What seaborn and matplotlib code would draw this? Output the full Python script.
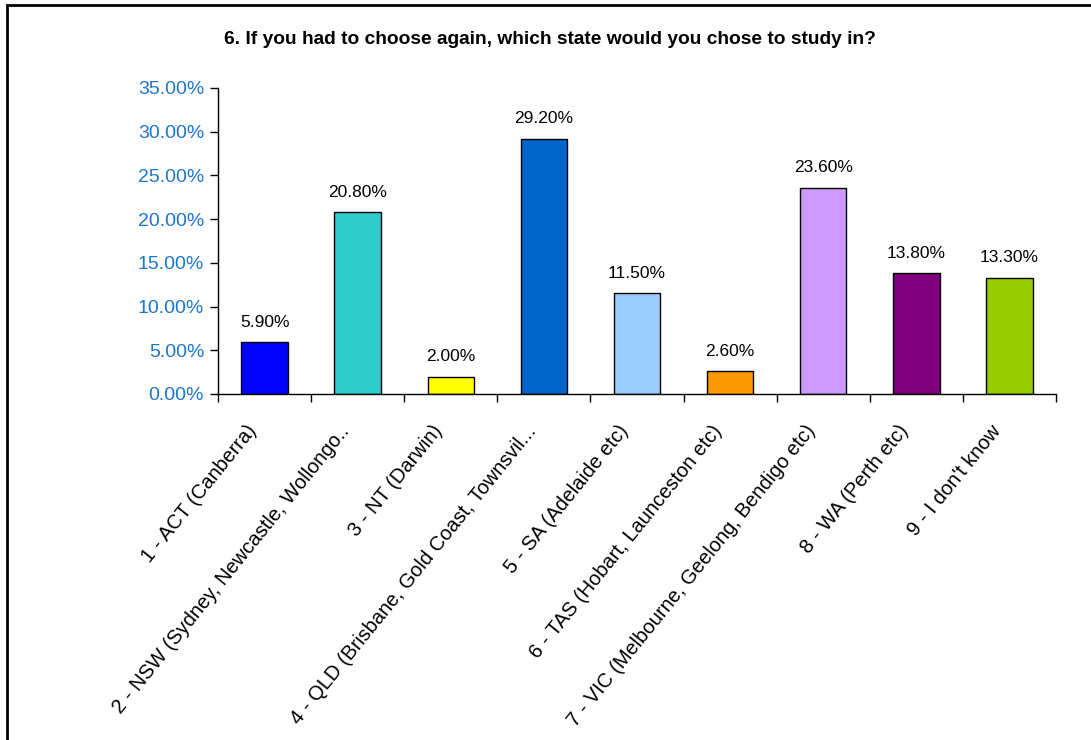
import matplotlib
matplotlib.use("Agg")
import matplotlib.pyplot as plt
from matplotlib.patches import Rectangle
from matplotlib.ticker import FuncFormatter, FixedLocator
from matplotlib.transforms import ScaledTranslation
import seaborn as sns
import pandas as pd

# Survey question 6: preferred state to study in
categories = [
    "1 - ACT (Canberra)",
    "2 - NSW (Sydney, Newcastle, Wollongo..",
    "3 - NT (Darwin)",
    "4 - QLD (Brisbane, Gold Coast, Townsvil...",
    "5 - SA (Adelaide etc)",
    "6 - TAS (Hobart, Launceston etc)",
    "7 - VIC (Melbourne, Geelong, Bendigo etc)",
    "8 - WA (Perth etc)",
    "9 - I don't know",
]
percentages = [5.9, 20.8, 2.0, 29.2, 11.5, 2.6, 23.6, 13.8, 13.3]
bar_colors = ["#0000FF", "#33CCCC", "#FFFF00", "#0066CC", "#99CCFF",
              "#FF9900", "#CC99FF", "#800080", "#99CC00"]
y_ticks = [0, 5, 10, 15, 20, 25, 30, 35]
title = "6. If you had to choose again, which state would you chose to study in?"

df = pd.DataFrame({"state": categories, "pct": percentages})

sns.set_theme(style="white")
plt.rcParams["font.family"] = ["Liberation Sans", "DejaVu Sans"]
plt.rcParams["text.color"] = "black"

fig = plt.figure(figsize=(10.91, 7.40), dpi=100)
ax = fig.add_axes([218 / 1091, 1 - 394 / 740, (1056 - 218) / 1091, (394 - 88) / 740])

sns.barplot(data=df, x="state", y="pct", hue="state", palette=bar_colors,
            legend=False, width=0.5, edgecolor="black", linewidth=1.0,
            saturation=1, ax=ax)

ax.set_xlim(-0.5, len(categories) - 0.5)
ax.set_ylim(0, 35)
ax.set_yticks(y_ticks)
ax.yaxis.set_major_formatter(FuncFormatter(lambda v, _: f"{v:.2f}%"))
ax.tick_params(axis="y", direction="out", length=6, width=1, color="black",
               labelsize=14, labelcolor="#1C75CF", pad=4, left=True)

# category labels at bar centres, tick marks at the category boundaries
ax.set_xticks(range(len(categories)))
ax.set_xticklabels(categories, rotation=51, ha="right", va="top",
                   rotation_mode="anchor", fontsize=14.5, color="black")
ax.tick_params(axis="x", which="major", length=0, pad=20, labelcolor="black")
shift = ScaledTranslation(-19 / 100, 0, fig.dpi_scale_trans)
for lbl in ax.get_xticklabels():
    lbl.set_transform(lbl.get_transform() + shift)
ax.xaxis.set_minor_locator(FixedLocator([i + 0.5 for i in range(-1, len(categories))]))
ax.tick_params(axis="x", which="minor", direction="out", length=6, width=1,
               color="black", bottom=True)
ax.set_xlabel("")
ax.set_ylabel("")

for side in ("top", "right"):
    ax.spines[side].set_visible(False)
for side in ("left", "bottom"):
    ax.spines[side].set_visible(True)
    ax.spines[side].set_color("black")
    ax.spines[side].set_linewidth(1)

# value labels above each bar
for i, v in enumerate(percentages):
    ax.annotate(f"{v:.2f}%", xy=(i, v), xytext=(0, 11), textcoords="offset points",
                ha="center", va="baseline", fontsize=12.5, color="black")

fig.text(0.5037, 1 - 40 / 740, title, ha="center", va="center",
         fontsize=13.8, fontweight="bold", color="black")

# outer chart frame (runs off the right and bottom edges)
fig.patches.append(Rectangle((7 / 1091, -0.2), 1.2, 1.2 - 5 / 740,
                             transform=fig.transFigure, fill=False,
                             edgecolor="black", linewidth=2))

fig.savefig("out.png", dpi=100)
